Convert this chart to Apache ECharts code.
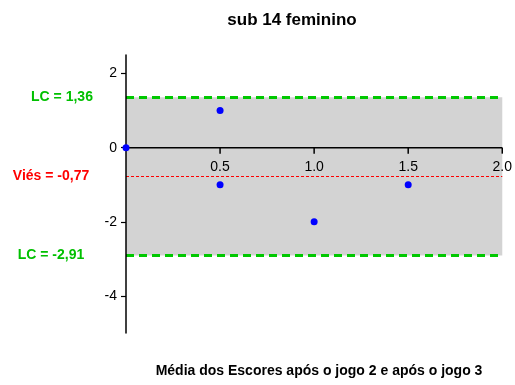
<!DOCTYPE html>
<html><head><meta charset="utf-8">
<script src="https://cdn.jsdelivr.net/npm/echarts@6/dist/echarts.min.js"></script>
<style>html,body{margin:0;padding:0;background:#fff}#c{width:515px;height:385px}</style>
</head><body><div id="c"></div>
<script>
var titleText = 'sub 14 feminino';
var xAxisTitle = 'Média dos Escores após o jogo 2 e após o jogo 3';
var xVals = [0, 0.5, 0.5, 1.0, 1.5];
var yVals = [0, 1, -1, -2, -1];
var bias = -0.77;
var lcUpper = 1.36;
var lcLower = -2.91;
var yTicks = [-4, -2, 0, 2];
var xTicks = [0.5, 1.0, 1.5, 2.0];
var xAxisEnds = [0, 2];
var labelBias = 'Viés = -0,77';
var labelUpper = 'LC = 1,36';
var labelLower = 'LC = -2,91';

var font = 'Liberation Sans, Arial, sans-serif';
var chart = echarts.init(document.getElementById('c'), null, {renderer:'canvas'});
var points = xVals.map(function(x,i){return [x, yVals[i]];});
var option = {
  animation:false,
  backgroundColor:'#fff',
  textStyle:{fontFamily:font},
  title:[
    {text:titleText, left:287, top:7, textAlign:'center', textStyle:{fontFamily:font,fontSize:17,fontWeight:'bold',color:'#000'}},
    {text:xAxisTitle, left:314, top:359, textAlign:'center', textStyle:{fontFamily:font,fontSize:14,fontWeight:'bold',color:'#000'}}
  ],
  grid:{left:126, right:11, top:55, bottom:52, containLabel:false},
  xAxis:{type:'value', min:0, max:2, interval:0.5, z:10, position:'bottom', offset:0,
    axisLine:{show:false},
    axisTick:{show:false},
    axisLabel:{color:'#000', fontSize:14, fontFamily:font, margin:12,
      formatter:function(v){return v===0?'':v.toFixed(1);}},
    splitLine:{show:false}},
  yAxis:{type:'value', min:-5, max:2.5, z:10,
    axisLine:{show:true, onZero:false, lineStyle:{color:'#000',width:1.5}},
    axisTick:{show:true, length:5, customValues:yTicks, lineStyle:{color:'#000',width:1.2}},
    axisLabel:{color:'#000', fontSize:14, fontFamily:font, margin:9, customValues:yTicks},
    splitLine:{show:false}},
  series:[
    {type:'line', data:[], z:1, silent:true,
      markArea:{silent:true, itemStyle:{color:'#d3d3d3'},
        data:[[{coord:[0,lcUpper]},{coord:[2,lcLower]}]]}},
    {type:'line', data:[], z:5, silent:true,
      markLine:{silent:true, symbol:'none', label:{show:false},
        data:[
          [{coord:[0,lcUpper],lineStyle:{color:'#00c800',width:3,type:[8,5]}},{coord:[2,lcUpper]}],
          [{coord:[0,lcLower],lineStyle:{color:'#00c800',width:3,type:[8,5]}},{coord:[2,lcLower]}],
          [{coord:[0,bias],lineStyle:{color:'#ff0000',width:1,type:[3,2]}},{coord:[2,bias]}]
        ]}},
    {type:'line', z:6, silent:true, symbol:'none', data:xAxisEnds.map(function(v){return [v,0];}),
      lineStyle:{color:'#000000', width:1.5, opacity:1}},
    {type:'custom', z:6, silent:true, data:xTicks.map(function(v){return [v,0];}),
      renderItem:function(params, api){
        var p = api.coord([api.value(0), api.value(1)]);
        return {type:'line', shape:{x1:p[0],y1:p[1],x2:p[0],y2:p[1]+6}, style:{stroke:'#000',lineWidth:1.5}};
      }},
    {type:'scatter', data:points, z:20, symbol:'circle', symbolSize:7, itemStyle:{color:'#0000ff', opacity:1}}
  ]
};
chart.setOption(option);
function py(v){return chart.convertToPixel({xAxisIndex:0,yAxisIndex:0},[0,v])[1];}
var bottomPx = py(-5);
chart.setOption({
  xAxis:{offset: py(0) - bottomPx},
  graphic:[
  {type:'text', x:62, y:py(lcUpper), style:{text:labelUpper, fill:'#00c000', font:'bold 14px '+font, textAlign:'center', textVerticalAlign:'middle'}},
  {type:'text', x:51, y:py(bias), style:{text:labelBias, fill:'#ff0000', font:'bold 14px '+font, textAlign:'center', textVerticalAlign:'middle'}},
  {type:'text', x:51, y:py(lcLower), style:{text:labelLower, fill:'#00c000', font:'bold 14px '+font, textAlign:'center', textVerticalAlign:'middle'}}
]});
</script></body></html>
